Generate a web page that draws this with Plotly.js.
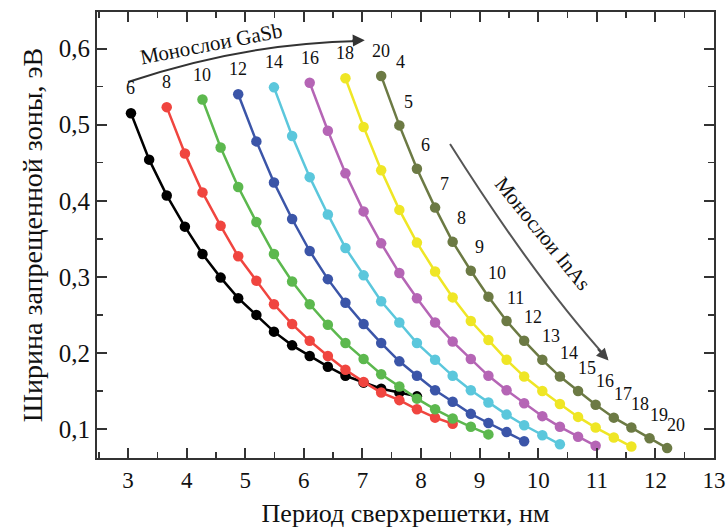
<!DOCTYPE html>
<html><head><meta charset="utf-8">
<script src="https://cdn.plot.ly/plotly-3.0.1.min.js"></script>
<style>html,body{margin:0;padding:0;background:#fff}#chart{width:727px;height:532px}</style>
</head><body><div id="chart"></div>
<script>
// GaSb monolayers per series and InAs monolayer labels
const gasbLabels = ['6','8','10','12','14','16','18','20'];
const inasLabels = ['4','5','6','7','8','9','10','11','12','13','14','15','16','17','18','19','20'];

// Period (nm) and band gap (eV) for each GaSb series, InAs = 4..20
const x_gasb6  = [3.05,3.36,3.66,3.97,4.27,4.58,4.88,5.19,5.49,5.80,6.10,6.41,6.71,7.02,7.32,7.63,7.93];
const eg_gasb6 = [0.515,0.454,0.407,0.366,0.330,0.299,0.272,0.250,0.228,0.210,0.196,0.182,0.170,0.161,0.153,0.148,0.143];
const x_gasb8  = [3.66,3.97,4.27,4.58,4.88,5.19,5.49,5.80,6.10,6.41,6.71,7.02,7.32,7.63,7.93,8.24,8.54];
const eg_gasb8 = [0.523,0.462,0.411,0.367,0.327,0.295,0.264,0.238,0.216,0.196,0.178,0.162,0.148,0.138,0.126,0.115,0.107];
const x_gasb10  = [4.27,4.58,4.88,5.19,5.49,5.80,6.10,6.41,6.71,7.02,7.32,7.63,7.93,8.24,8.54,8.85,9.15];
const eg_gasb10 = [0.533,0.470,0.418,0.372,0.330,0.294,0.264,0.237,0.213,0.192,0.172,0.156,0.140,0.126,0.114,0.103,0.093];
const x_gasb12  = [4.88,5.19,5.49,5.80,6.10,6.41,6.71,7.02,7.32,7.63,7.93,8.24,8.54,8.85,9.15,9.46,9.76];
const eg_gasb12 = [0.540,0.478,0.424,0.376,0.334,0.297,0.266,0.238,0.213,0.189,0.170,0.151,0.136,0.120,0.108,0.096,0.084];
const x_gasb14  = [5.49,5.80,6.10,6.41,6.71,7.02,7.32,7.63,7.93,8.24,8.54,8.85,9.15,9.46,9.76,10.07,10.37];
const eg_gasb14 = [0.549,0.485,0.431,0.382,0.338,0.302,0.268,0.240,0.213,0.191,0.170,0.151,0.135,0.119,0.105,0.092,0.080];
const x_gasb16  = [6.10,6.41,6.71,7.02,7.32,7.63,7.93,8.24,8.54,8.85,9.15,9.46,9.76,10.07,10.37,10.68,10.98];
const eg_gasb16 = [0.555,0.492,0.436,0.386,0.344,0.305,0.272,0.240,0.215,0.192,0.170,0.151,0.134,0.117,0.103,0.090,0.078];
const x_gasb18  = [6.71,7.02,7.32,7.63,7.93,8.24,8.54,8.85,9.15,9.46,9.76,10.07,10.37,10.68,10.98,11.29,11.59];
const eg_gasb18 = [0.561,0.497,0.440,0.388,0.345,0.307,0.273,0.242,0.217,0.191,0.169,0.150,0.133,0.116,0.102,0.089,0.077];
const x_gasb20  = [7.32,7.63,7.93,8.24,8.54,8.85,9.15,9.46,9.76,10.07,10.37,10.68,10.98,11.29,11.59,11.90,12.20];
const eg_gasb20 = [0.564,0.499,0.442,0.391,0.346,0.308,0.274,0.242,0.216,0.191,0.169,0.150,0.132,0.115,0.102,0.088,0.075];

const yTickVals = [0.1,0.2,0.3,0.4,0.5,0.6];
const yTickText = ['0,1','0,2','0,3','0,4','0,5','0,6'];
const xTickVals = [3,4,5,6,7,8,9,10,11,12,13];

const seriesX = [x_gasb6,x_gasb8,x_gasb10,x_gasb12,x_gasb14,x_gasb16,x_gasb18,x_gasb20];
const seriesY = [eg_gasb6,eg_gasb8,eg_gasb10,eg_gasb12,eg_gasb14,eg_gasb16,eg_gasb18,eg_gasb20];
const colors = ['#000000','#f0453f','#5cb84e','#3b55a8','#5bc7dc','#b565b5','#efe625','#6c7a44'];

const FONT = 'Liberation Serif';

const traces = seriesX.map((xs, i) => ({
  type: 'scatter', mode: 'lines+markers',
  x: xs, y: seriesY[i],
  line: {color: colors[i], width: 2.5},
  marker: {color: colors[i], size: 10.5},
  showlegend: false, hoverinfo: 'skip'
}));

const annotations = [];
seriesX.forEach((xs, i) => {
  annotations.push({x: xs[0], y: seriesY[i][0], xref: 'x', yref: 'y', text: gasbLabels[i],
    showarrow: false, yshift: 25, font: {family: FONT, size: 18, color: '#111'}});
});
const olX = seriesX[7], olY = seriesY[7];
inasLabels.forEach((t, k) => {
  const first = k === 0;
  annotations.push({x: olX[k], y: olY[k], xref: 'x', yref: 'y', text: t, showarrow: false,
    xshift: first ? 19 : 9, yshift: first ? 14 : 23.5,
    font: {family: FONT, size: 18, color: '#111'}});
});
annotations.push({x: 4.41, y: 0.606, xref: 'x', yref: 'y', text: 'Монослои GaSb', showarrow: false,
  textangle: -11, font: {family: FONT, size: 21, color: '#111'}});
annotations.push({x: 10.08, y: 0.356, xref: 'x', yref: 'y', text: 'Монослои InAs', showarrow: false,
  textangle: 51, font: {family: FONT, size: 21, color: '#111'}});
// arrow heads
annotations.push({x: 7.04, y: 0.611, xref: 'x', yref: 'y', text: '', showarrow: true,
  ax: -14, ay: 0.5, arrowhead: 2, arrowsize: 1.2, arrowwidth: 2, arrowcolor: '#333'});
annotations.push({x: 11.2, y: 0.190, xref: 'x', yref: 'y', text: '', showarrow: true,
  ax: -12, ay: -13, arrowhead: 2, arrowsize: 1.2, arrowwidth: 2, arrowcolor: '#444'});

const shapes = [
  {type: 'path', xref: 'x', yref: 'y', path: 'M 3.0,0.556 Q 4.962,0.607 6.93,0.610',
   line: {color: '#333', width: 2}},
  {type: 'path', xref: 'x', yref: 'y', path: 'M 8.495,0.4745 Q 9.945,0.2978 11.174,0.1933',
   line: {color: '#555', width: 2}}
];

const axisCommon = {
  showline: true, linecolor: '#333', linewidth: 2, mirror: 'allticks',
  ticks: 'inside', ticklen: 10, tickwidth: 2, tickcolor: '#333',
  showgrid: false, zeroline: false
};

const layout = {
  width: 727, height: 532,
  margin: {l: 97, r: 13, t: 12, b: 74},
  paper_bgcolor: '#fff', plot_bgcolor: '#fff',
  separators: ', ',
  font: {family: FONT, color: '#111'},
  xaxis: Object.assign({}, axisCommon, {
    range: [2.47, 13.0], tickvals: xTickVals,
    minor: {dtick: 0.5, tick0: 0, ticks: 'inside', ticklen: 6, tickwidth: 1.5, tickcolor: '#333'},
    tickfont: {family: FONT, size: 23, color: '#111'},
    title: {text: 'Период сверхрешетки, нм', font: {family: FONT, size: 26, color: '#111'}, standoff: 12}
  }),
  yaxis: Object.assign({}, axisCommon, {
    range: [0.062, 0.648], tickvals: yTickVals, ticktext: yTickText,
    minor: {dtick: 0.05, tick0: 0, ticks: 'inside', ticklen: 6, tickwidth: 1.5, tickcolor: '#333'},
    tickfont: {family: FONT, size: 25, color: '#111'},
    title: {text: 'Ширина запрещенной зоны, эВ', font: {family: FONT, size: 28, color: '#111'}, standoff: 8}
  }),
  annotations: annotations,
  shapes: shapes
};

Plotly.newPlot('chart', traces, layout, {displayModeBar: false, staticPlot: true});
</script>
</body></html>
